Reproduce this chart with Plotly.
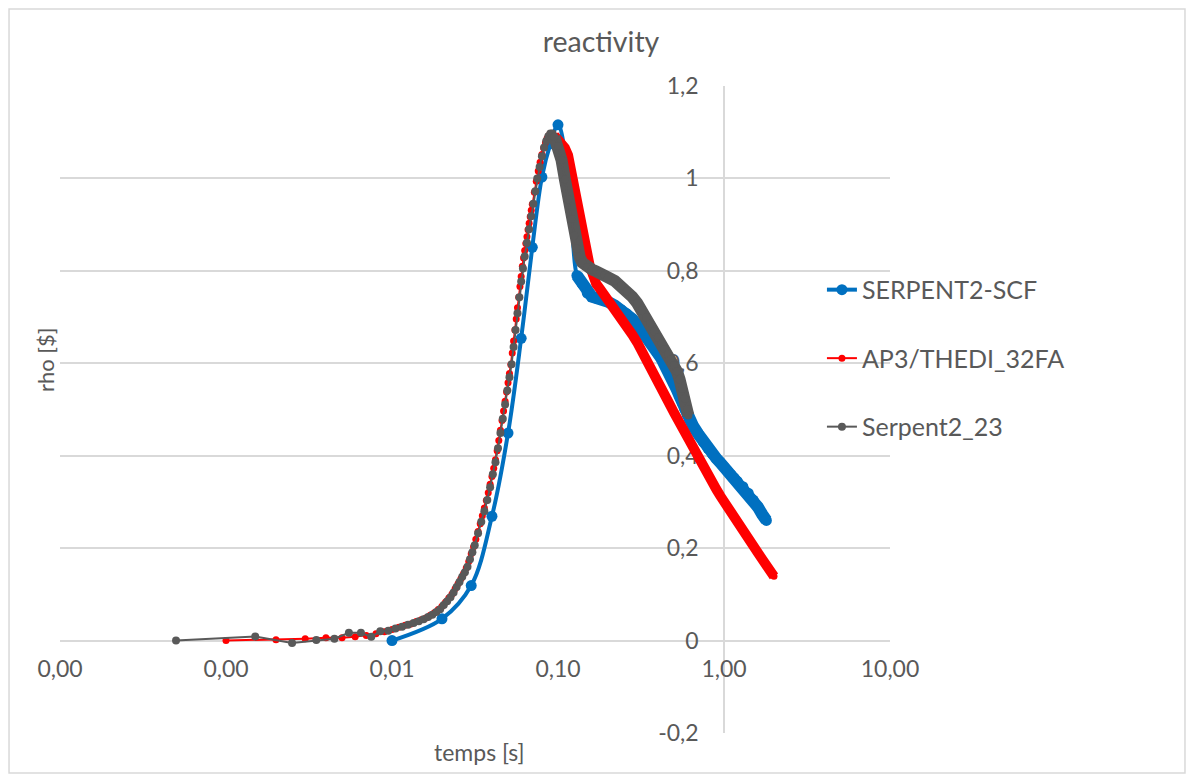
import plotly.graph_objects as go

# ---------------- data ----------------
scf_t = [0.01, 0.02, 0.03, 0.04, 0.05, 0.06, 0.07, 0.08, 0.09, 0.10, 0.11, 0.12, 0.13, 0.14,
         0.15, 0.16, 0.17, 0.18, 0.19, 0.20, 0.22, 0.24, 0.26, 0.28, 0.30, 0.32, 0.34, 0.36,
         0.38, 0.40, 0.42, 0.44, 0.46, 0.48, 0.50, 0.52, 0.54, 0.56, 0.58, 0.60, 0.62, 0.65,
         0.70, 0.75, 0.80, 0.85, 0.90, 0.95, 1.00, 1.05, 1.10, 1.15, 1.20, 1.30, 1.40, 1.50,
         1.60, 1.70, 1.80]
scf_rho = [0.000, 0.047, 0.119, 0.269, 0.449, 0.654, 0.851, 1.003, 1.075, 1.116, 1.060, 0.930,
           0.790, 0.772, 0.752, 0.744, 0.741, 0.739, 0.736, 0.733, 0.725, 0.716, 0.707, 0.696,
           0.684, 0.672, 0.659, 0.646, 0.633, 0.621, 0.610, 0.598, 0.585, 0.571, 0.557, 0.543,
           0.529, 0.515, 0.501, 0.489, 0.478, 0.465, 0.447, 0.430, 0.416, 0.404, 0.394, 0.385,
           0.376, 0.367, 0.359, 0.352, 0.345, 0.333, 0.319, 0.304, 0.289, 0.273, 0.260]

ap3_t = [0.001, 0.002, 0.003, 0.004, 0.005, 0.006, 0.007, 0.008, 0.009, 0.010,
         0.011, 0.012, 0.013, 0.014, 0.015, 0.016, 0.017, 0.018, 0.019, 0.020,
         0.021, 0.022, 0.023, 0.024, 0.025, 0.026, 0.027, 0.028, 0.029, 0.030,
         0.031, 0.032, 0.033, 0.034, 0.035, 0.036, 0.037, 0.038, 0.039, 0.040,
         0.041, 0.042, 0.043, 0.044, 0.045, 0.046, 0.047, 0.048, 0.049, 0.050,
         0.051, 0.052, 0.053, 0.054, 0.055, 0.056, 0.057, 0.058, 0.059, 0.060,
         0.061, 0.062, 0.063, 0.064, 0.065, 0.066, 0.067, 0.068, 0.069, 0.070,
         0.072, 0.074, 0.076, 0.078, 0.080, 0.082, 0.084, 0.086, 0.088, 0.090,
         0.092, 0.095, 0.100, 0.105, 0.110, 0.115, 0.120, 0.125, 0.130, 0.135,
         0.140, 0.145, 0.150, 0.155, 0.160, 0.165, 0.170, 0.180, 0.190, 0.200,
         0.220, 0.240, 0.260, 0.280, 0.300, 0.325, 0.350, 0.375, 0.400, 0.430,
         0.460, 0.500, 0.540, 0.580, 0.620, 0.660, 0.700, 0.750, 0.800, 0.850,
         0.900, 0.950, 1.000, 1.100, 1.200, 1.300, 1.400, 1.500, 1.600, 1.700,
         1.800, 1.900, 2.000]
ap3_rho = [0.000, 0.002, 0.004, 0.006, 0.006, 0.008, 0.011, 0.015, 0.019, 0.024,
           0.029, 0.033, 0.036, 0.041, 0.045, 0.049, 0.055, 0.060, 0.067, 0.074,
           0.083, 0.092, 0.101, 0.112, 0.123, 0.134, 0.145, 0.157, 0.171, 0.188,
           0.203, 0.219, 0.236, 0.253, 0.270, 0.287, 0.303, 0.320, 0.338, 0.355,
           0.373, 0.391, 0.411, 0.433, 0.455, 0.476, 0.497, 0.518, 0.538, 0.558,
           0.578, 0.597, 0.622, 0.648, 0.672, 0.696, 0.720, 0.743, 0.766, 0.788,
           0.810, 0.828, 0.844, 0.859, 0.874, 0.889, 0.903, 0.917, 0.931, 0.944,
           0.970, 0.994, 1.016, 1.035, 1.052, 1.066, 1.077, 1.087, 1.093, 1.097,
           1.097, 1.093, 1.085, 1.076, 1.066, 1.050, 1.020, 0.985, 0.952, 0.922,
           0.893, 0.866, 0.838, 0.812, 0.792, 0.781, 0.772, 0.760, 0.749, 0.739,
           0.719, 0.700, 0.680, 0.662, 0.645, 0.623, 0.600, 0.579, 0.560, 0.538,
           0.518, 0.493, 0.470, 0.449, 0.429, 0.410, 0.392, 0.375, 0.358, 0.342,
           0.327, 0.313, 0.300, 0.278, 0.257, 0.238, 0.221, 0.205, 0.190, 0.176,
           0.162, 0.150, 0.139]

s23_t = [0.0005, 0.0015, 0.0025, 0.0035, 0.0045, 0.0055, 0.0065, 0.0075, 0.0085, 0.0095,
         0.0105, 0.0115, 0.0125, 0.0135, 0.0145, 0.0155, 0.0165, 0.0175, 0.0185, 0.0195,
         0.0205, 0.0215, 0.0225, 0.0235, 0.0245, 0.0255, 0.0265, 0.0275, 0.0285, 0.0295,
         0.0305, 0.0315, 0.033, 0.0345, 0.036, 0.0375, 0.039, 0.0405, 0.042, 0.0435,
         0.045, 0.0465, 0.048, 0.0495, 0.051, 0.0525, 0.054, 0.0555, 0.057, 0.0585,
         0.060, 0.0615, 0.063, 0.065, 0.067, 0.069, 0.071, 0.073, 0.075, 0.0775,
         0.080, 0.0825, 0.085, 0.0875, 0.090, 0.0925, 0.095, 0.100, 0.105, 0.110,
         0.115, 0.120, 0.125, 0.130, 0.135, 0.140, 0.150, 0.160, 0.170, 0.180,
         0.190, 0.200, 0.220, 0.240, 0.260, 0.280, 0.300, 0.320, 0.340, 0.360,
         0.380, 0.400, 0.420, 0.440, 0.460, 0.480, 0.500, 0.520, 0.540, 0.560,
         0.580, 0.600, 0.610]
s23_rho = [0.000, 0.009, -0.005, 0.001, 0.004, 0.017, 0.017, 0.008, 0.020, 0.021,
           0.026, 0.030, 0.034, 0.038, 0.042, 0.046, 0.051, 0.056, 0.062, 0.068,
           0.077, 0.085, 0.094, 0.104, 0.116, 0.127, 0.138, 0.148, 0.160, 0.176,
           0.191, 0.206, 0.232, 0.257, 0.280, 0.304, 0.332, 0.360, 0.386, 0.416,
           0.449, 0.480, 0.511, 0.541, 0.570, 0.598, 0.635, 0.672, 0.708, 0.743,
           0.777, 0.805, 0.831, 0.861, 0.890, 0.918, 0.945, 0.972, 1.000, 1.025,
           1.048, 1.067, 1.081, 1.091, 1.097, 1.097, 1.090, 1.070, 1.040, 0.998,
           0.955, 0.912, 0.876, 0.848, 0.830, 0.818, 0.808, 0.803, 0.799, 0.796,
           0.791, 0.786, 0.778, 0.768, 0.756, 0.744, 0.730, 0.714, 0.699, 0.686,
           0.669, 0.656, 0.643, 0.631, 0.619, 0.608, 0.596, 0.583, 0.565, 0.545,
           0.523, 0.500, 0.487]

x_tickvals = [0.0001, 0.001, 0.01, 0.1, 1, 10]
x_ticktext = ["0,00", "0,00", "0,01", "0,10", "1,00", "10,00"]
y_tickvals = [-0.2, 0, 0.2, 0.4, 0.6, 0.8, 1.0, 1.2]
y_ticktext = ["-0,2", "0", "0,2", "0,4", "0,6", "0,8", "1", "1,2"]

# start of the densely sampled part of each series (drawn as a solid band)
scf_dense_from = 0.13
ap3_dense_from = 0.095
s23_dense_from = 0.095

BLUE = "#0070C0"
RED = "#FF0000"
GRAY = "#595959"
TXT = "#595959"
GRID = "#D9D9D9"
FONT = "Lato, 'Open Sans', sans-serif"


def dense(ts, rs, start):
    pts = [(a, b) for a, b in zip(ts, rs) if a >= start]
    return [p[0] for p in pts], [p[1] for p in pts]


fig = go.Figure()

series = [
    ("SERPENT2-SCF", scf_t, scf_rho, scf_dense_from, BLUE, 4, 11, 12, "spline"),
    ("AP3/THEDI_32FA", ap3_t, ap3_rho, ap3_dense_from, RED, 2, 7, 10, "linear"),
    ("Serpent2_23", s23_t, s23_rho, s23_dense_from, GRAY, 2, 8, 12, "linear"),
]

for name, ts, rs, start, col, lw, ms, bw, shape in series:
    dt, dr = dense(ts, rs, start)
    fig.add_trace(go.Scatter(
        x=dt, y=dr, mode="lines", line=dict(color=col, width=bw),
        showlegend=False, hoverinfo="skip", legendgroup=name))
    fig.add_trace(go.Scatter(
        x=ts, y=rs, mode="lines+markers", name=name, legendgroup=name,
        line=dict(color=col, width=lw, shape=shape),
        marker=dict(color=col, size=ms, symbol="circle")))

fig.update_layout(
    width=1178, height=766,
    paper_bgcolor="white", plot_bgcolor="white",
    margin=dict(l=52, r=296, t=78, b=41),
    font=dict(family=FONT, color=TXT, size=22),
    title=dict(text="reactivity", x=0.5034, y=0.9556, xref="container", yref="container",
               xanchor="center", yanchor="middle", font=dict(size=28.5, color=TXT, family=FONT)),
    xaxis=dict(type="log", range=[-4, 1], anchor="free", position=0.142857,
               showgrid=False, zeroline=False, showline=False, ticks="",
               tickvals=x_tickvals, ticktext=x_ticktext, ticklabelstandoff=12,
               tickfont=dict(size=23, color=TXT, family=FONT), layer="below traces"),
    yaxis=dict(range=[-0.2, 1.2], anchor="free", position=0.8,
               showgrid=True, gridcolor=GRID, gridwidth=1.5, zeroline=False,
               showline=True, linecolor=GRID, linewidth=1.5, ticks="",
               tickvals=y_tickvals, ticktext=y_ticktext, ticklabelstandoff=20,
               tickfont=dict(size=23, color=TXT, family=FONT), layer="below traces"),
    legend=dict(x=0.918, y=0.7204, xanchor="left", yanchor="top",
                font=dict(size=25, color=TXT, family=FONT),
                traceorder="grouped", tracegroupgap=33, bgcolor="rgba(0,0,0,0)"),
    annotations=[
        dict(text="rho [$]", x=-0.018, y=0.5765, xref="paper", yref="paper",
             xanchor="center", yanchor="middle",
             textangle=-90, showarrow=False, font=dict(size=22, color=TXT, family=FONT)),
        dict(text="temps [s]", x=0.506, y=-0.0294, xref="paper", yref="paper",
             xanchor="center", yanchor="middle",
             showarrow=False, font=dict(size=23, color=TXT, family=FONT)),
    ],
    shapes=[dict(type="rect", xref="paper", yref="paper", x0=-0.0614, x1=1.3554,
                 y0=-0.0618, y1=1.119, line=dict(color=GRID, width=1.5),
                 fillcolor="rgba(0,0,0,0)", layer="below")],
)

fig.write_html("out.html")
